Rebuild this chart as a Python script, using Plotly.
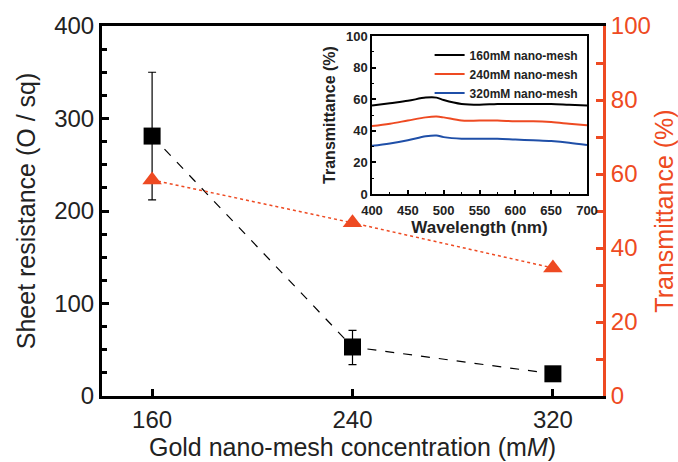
import plotly.graph_objects as go

# Main chart data
conc = [160, 240, 320]
resistance = [281, 53, 24]
res_err_plus = [69, 18, 0]
res_err_minus = [69, 19, 0]
transmittance = [58.4, 46.8, 34.6]

# Inset spectra data
wavelength = [400, 425, 450, 475, 490, 500, 525, 550, 575, 600, 625, 650, 675, 700]
t160 = [56, 57.5, 59, 61, 61, 59.5, 57, 56.5, 57, 57, 57, 57, 56.5, 56]
t240 = [43, 44.5, 46.5, 48.5, 49, 48.5, 46.5, 46.5, 46.5, 46, 46, 45.5, 44.5, 43.5]
t320 = [30.5, 32, 34, 36.5, 37, 36, 35, 35, 35, 34.5, 34, 33.5, 32.5, 31]

ORANGE = "#EE4A22"
BLUE = "#1F4FA8"
FONT = "Liberation Sans, Arial, sans-serif"

fig = go.Figure()

fig.add_trace(go.Scatter(
    x=conc, y=resistance, mode="lines+markers",
    line=dict(color="black", dash="dash", width=1.2),
    marker=dict(symbol="square", size=17, color="black"),
    error_y=dict(type="data", array=res_err_plus, arrayminus=res_err_minus,
                 color="black", thickness=1.2, width=4),
    xaxis="x", yaxis="y", showlegend=False))

fig.add_trace(go.Scatter(
    x=conc, y=transmittance, mode="lines+markers",
    line=dict(color=ORANGE, dash="dot", width=1.5),
    marker=dict(symbol="triangle-up", size=17, color=ORANGE),
    xaxis="x", yaxis="y2", showlegend=False))

for ys, col, name in [(t160, "black", "160mM nano-mesh"),
                      (t240, ORANGE, "240mM nano-mesh"),
                      (t320, BLUE, "320mM nano-mesh")]:
    fig.add_trace(go.Scatter(
        x=wavelength, y=ys, mode="lines", name=name,
        line=dict(color=col, width=2, shape="spline"),
        xaxis="x3", yaxis="y3"))

W, H = 678, 462
x0, x1 = 102 / W, 603 / W
y0, y1 = 1 - 396 / H, 1 - 26 / H
ix0, ix1 = 372 / W, 587 / W
iy0, iy1 = 1 - 194 / H, 1 - 36 / H

fig.update_layout(
    width=W, height=H,
    margin=dict(l=0, r=0, t=0, b=0, autoexpand=False),
    paper_bgcolor="white", plot_bgcolor="white",
    font=dict(family=FONT, color="#222"),
    xaxis=dict(domain=[x0, x1], range=[140, 340], tickvals=conc, automargin=False,
               ticks="inside", ticklen=7, tickwidth=3, tickcolor="black",
               showline=True, linecolor="black", linewidth=3, mirror=True,
               showgrid=False, zeroline=False,
               tickfont=dict(size=24, color="#222"),
               title=dict(text="Gold nano-mesh concentration (m<i>M</i>)",
                          font=dict(size=25, color="#222"), standoff=6)),
    yaxis=dict(domain=[y0, y1], range=[0, 400], tickvals=[0, 100, 200, 300, 400],
               automargin=False,
               ticks="inside", ticklen=7, tickwidth=3, tickcolor="black",
               minor=dict(dtick=25, ticks="inside", ticklen=5, tickwidth=3, tickcolor="black"),
               showline=True, linecolor="black", linewidth=3,
               showgrid=False, zeroline=False,
               tickfont=dict(size=24, color="#222"),
               title=dict(text="Sheet resistance (O / sq)",
                          font=dict(size=25, color="#222"), standoff=12)),
    yaxis2=dict(overlaying="y", side="right", anchor="x", range=[0, 100],
                tickvals=[0, 20, 40, 60, 80, 100], automargin=False,
                ticks="inside", ticklen=7, tickwidth=3, tickcolor=ORANGE,
                minor=dict(dtick=10, ticks="inside", ticklen=7, tickwidth=3, tickcolor=ORANGE),
                showline=True, linecolor=ORANGE, linewidth=3,
                showgrid=False, zeroline=False,
                tickfont=dict(size=24, color=ORANGE),
                title=dict(text="Transmittance (%)",
                           font=dict(size=25, color=ORANGE), standoff=10)),
    xaxis3=dict(domain=[ix0, ix1], anchor="y3", range=[400, 700], automargin=False,
                tickvals=[400, 450, 500, 550, 600, 650, 700],
                ticks="inside", ticklen=4, tickwidth=1.5, tickcolor="black",
                ticklabelstandoff=4,
                minor=dict(dtick=25, ticks="inside", ticklen=2, tickwidth=1, tickcolor="black"),
                showline=True, linecolor="black", linewidth=1.5, mirror=True,
                showgrid=False, zeroline=False,
                tickfont=dict(size=13, color="#222", weight="bold"),
                title=dict(text="<b>Wavelength (nm)</b>",
                           font=dict(size=17, color="#222"), standoff=0)),
    yaxis3=dict(domain=[iy0, iy1], anchor="x3", range=[0, 100], automargin=False,
                tickvals=[0, 20, 40, 60, 80, 100],
                ticks="inside", ticklen=4, tickwidth=1.5, tickcolor="black",
                minor=dict(dtick=10, ticks="inside", ticklen=2, tickwidth=1, tickcolor="black"),
                showline=True, linecolor="black", linewidth=1.5, mirror=True,
                showgrid=False, zeroline=False,
                tickfont=dict(size=13, color="#222", weight="bold"),
                title=dict(text="<b>Transmittance (%)</b>",
                           font=dict(size=16, color="#222"), standoff=6)),
    legend=dict(x=ix1 - 0.005, y=iy1 - 0.01, xanchor="right", yanchor="top",
                bgcolor="rgba(0,0,0,0)", borderwidth=0,
                font=dict(size=12, color="#222", weight="bold"),
                tracegroupgap=0, itemwidth=30),
)

fig.write_html("out.html")
